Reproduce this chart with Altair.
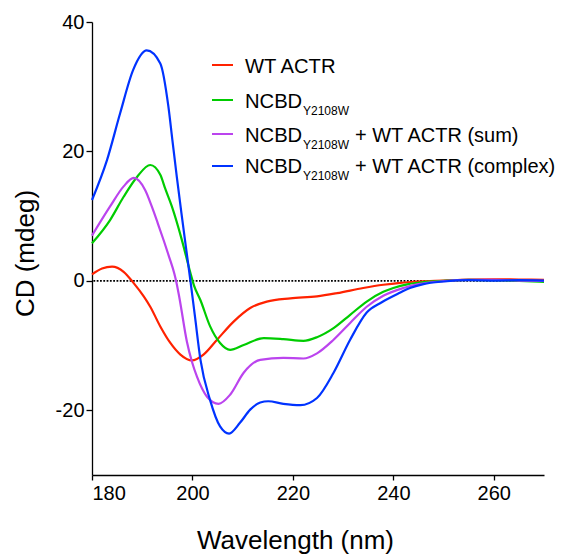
import altair as alt
import pandas as pd

# ---- data (wavelength nm, CD mdeg) ----
red_x = [180, 182, 184, 186.3, 188.3, 190.3, 191.6, 193.6, 195.6, 197.6, 199.9, 202.2, 204.9,
         208.2, 211.5, 214.8, 219.5, 224.8, 228.8, 234, 238, 241.4, 245, 250, 255, 260, 265, 270]
red_y = [1.0, 1.9, 2.2, 1.4, -0.35, -2.4, -4.0, -7.05, -9.6, -11.4, -12.3, -11.4, -9.1,
         -6.3, -4.2, -3.2, -2.7, -2.4, -1.9, -1.1, -0.6, -0.3, -0.1, 0.05, 0.2, 0.25, 0.2, 0.15]

green_x = [180, 183.6, 186.3, 189.0, 191.6, 193.6, 194.6, 195.9, 197.9, 199.6, 200.3, 201.6, 203.5,
           205.5, 207.5, 210.2, 214.2, 218.1, 222.1, 224.8, 228.1, 231.4, 234.7, 238.0, 240.0,
           243, 246, 250, 255, 260, 265, 270]
green_y = [5.8, 9.4, 13.0, 16.1, 17.9, 16.4, 14.2, 11.5, 6.3, 1.2, -0.7, -3.0, -7.0,
           -9.6, -10.65, -9.9, -8.85, -9.0, -9.26, -8.7, -7.3, -5.25, -3.2, -1.7, -1.1,
           -0.5, -0.2, 0.0, 0.15, 0.1, 0.0, -0.15]

purple_x = [180, 183.6, 186.3, 188.3, 190.6, 191.9, 193.1, 194.3, 195.4, 196.4, 196.8, 197.4, 198.9,
            199.9, 200.9, 202.9, 205.2, 207.5, 210.2, 213.5, 218.1, 222.1, 224.8, 228.1, 231.4,
            234.7, 238.0, 242.0, 245, 250, 255, 260, 265, 270]
purple_y = [7.0, 11.5, 14.6, 15.9, 14.0, 11.5, 8.9, 6.2, 3.6, 1.1, -0.2, -2.6, -9.4,
            -12.5, -14.8, -17.9, -19.0, -17.6, -14.2, -12.2, -11.9, -12.0, -11.2, -9.1, -6.5,
            -4.0, -2.3, -1.1, -0.5, -0.05, 0.15, 0.15, 0.05, 0.0]

blue_x = [180, 183, 185.6, 188.2, 190.9, 193.6, 195.2, 196.0, 196.9, 197.8, 198.7, 199.6, 200.5,
          201.6, 203.5, 205.5, 207.3, 209.5, 211.5, 213.5, 215.1, 218.1, 221.5, 224.8, 228.1,
          231.4, 234.7, 237.7, 241.4, 243.3, 246, 250, 255, 260, 265, 270]
blue_y = [12.5, 18.7, 25.9, 32.6, 35.6, 33.6, 27.0, 21.8, 16.0, 10.5, 5.2, 0.0, -5.5,
          -12.2, -18.4, -22.5, -23.6, -21.9, -19.9, -18.8, -18.6, -19.0, -19.2, -18.1, -14.2,
          -9.1, -4.9, -3.3, -1.8, -1.1, -0.5, -0.1, 0.1, 0.05, 0.1, 0.05]

x_ticks = [180, 200, 220, 240, 260]
y_ticks = [-20, 0, 20, 40]

colors = ["#FF2200", "#00CC00", "#BB44EE", "#0033FF"]
legend_main = ["WT ACTR", "NCBD", "NCBD", "NCBD"]
legend_sub = ["", "Y2108W", "Y2108W", "Y2108W"]
legend_rest = ["", "", "+ WT ACTR (sum)", "+ WT ACTR (complex)"]

FONT = "Liberation Sans"

xscale = alt.Scale(domain=[180, 270], nice=False, zero=False)
yscale = alt.Scale(domain=[-30, 40], nice=False, zero=False)

xaxis = alt.Axis(values=x_ticks, title="Wavelength (nm)", labelFontSize=20, titleFontSize=26,
                 titleFontWeight="normal", tickSize=5, labelPadding=3,
                 labelExpr="toString(datum.value)",
                 titleX=203, titleY=73, titleBaseline="alphabetic", titleAlign="center")
yaxis = alt.Axis(values=y_ticks, title="CD (mdeg)", labelFontSize=20, titleFontSize=26,
                 titleFontWeight="normal", tickSize=6, labelPadding=2,
                 labelExpr="toString(datum.value)",
                 titleX=-59, titleY=231, titleBaseline="alphabetic", titleAlign="center",
                 titleAngle=270)

zero = alt.Chart(pd.DataFrame({"z": [0]})).mark_rule(
    color="black", strokeWidth=1.8, strokeDash=[1.8, 1.5]
).encode(y=alt.Y("z:Q", scale=yscale, axis=yaxis))


def curve(xs, ys, color):
    df = pd.DataFrame({"wl": xs, "cd": ys})
    return alt.Chart(df).mark_line(color=color, strokeWidth=2.2, interpolate="monotone").encode(
        x=alt.X("wl:Q", scale=xscale, axis=xaxis),
        y=alt.Y("cd:Q", scale=yscale, axis=yaxis),
    )


layers = [zero,
          curve(red_x, red_y, colors[0]),
          curve(green_x, green_y, colors[1]),
          curve(purple_x, purple_y, colors[2]),
          curve(blue_x, blue_y, colors[3])]

# ---- manual legend with subscripts ----
one = pd.DataFrame({"a": [0]})
line_y = [43, 78, 112, 144]
base_y = [51, 86, 120, 151]
for i in range(4):
    layers.append(alt.Chart(one).mark_rule(color=colors[i], strokeWidth=2).encode(
        x=alt.value(120), x2=alt.value(141), y=alt.value(line_y[i])))
    layers.append(alt.Chart(one).mark_text(
        text=legend_main[i], font=FONT, fontSize=20.2, align="left", baseline="alphabetic",
        color="black").encode(x=alt.value(153), y=alt.value(base_y[i])))
    if legend_sub[i]:
        layers.append(alt.Chart(one).mark_text(
            text=legend_sub[i], font=FONT, fontSize=12, align="left", baseline="alphabetic",
            color="black").encode(x=alt.value(211), y=alt.value(base_y[i] + 7)))
    if legend_rest[i]:
        layers.append(alt.Chart(one).mark_text(
            text=legend_rest[i], font=FONT, fontSize=20, align="left", baseline="alphabetic",
            color="black").encode(x=alt.value(263), y=alt.value(base_y[i])))

chart = alt.layer(*layers).properties(
    width=452, height=453,
    autosize=alt.AutoSizeParams(type="none"),
    padding={"left": 84, "top": 14, "right": 14, "bottom": 80},
).configure_view(stroke=None).configure_axis(
    grid=False, domainColor="black", tickColor="black", labelColor="black", titleColor="black",
    labelFont=FONT, titleFont=FONT, domainWidth=1.3, tickWidth=1.3,
)

chart.save("out.html", embed_options={"renderer": "svg", "actions": False})
